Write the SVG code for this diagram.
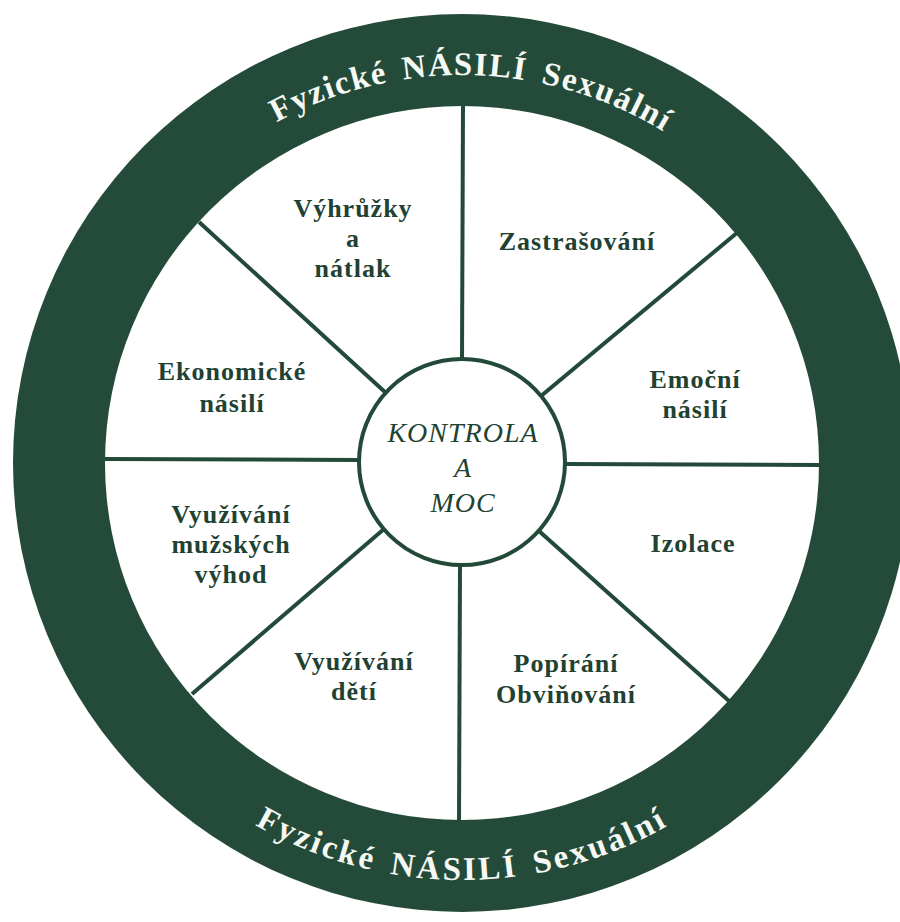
<svg xmlns="http://www.w3.org/2000/svg" width="900" height="922" viewBox="0 0 900 922">
<style>
.lbl{font-family:"Liberation Serif","Times New Roman",serif;font-weight:bold;font-size:26px;letter-spacing:1px;fill:#1f4232;text-anchor:middle}
.ctr{font-family:"Liberation Serif","Times New Roman",serif;font-style:italic;font-size:28px;letter-spacing:1px;fill:#1f4232;text-anchor:middle}
.ring{font-family:"Liberation Serif","Times New Roman",serif;font-weight:bold;font-size:33px;fill:#f6f8f4;text-anchor:middle}
.spoke{stroke:#234a38;stroke-width:4;stroke-linecap:butt}
</style>
<defs>
<path id="arcTop" d="M 74 463 A 388 388 0 0 1 850 463"/>
<path id="arcBot" d="M 45 463 A 417 417 0 0 0 879 463"/>
</defs>
<rect width="900" height="922" fill="#ffffff"/>
<g id="outer-ring">
<circle cx="462" cy="463" r="449" fill="#244b39"/>
<circle cx="462" cy="463" r="357" fill="#ffffff"/>
<text class="ring" style="letter-spacing:1.6px;word-spacing:5px"><textPath href="#arcTop" startOffset="619">Fyzické NÁSILÍ Sexuální</textPath></text>
<text class="ring" style="letter-spacing:2.8px;word-spacing:5px"><textPath href="#arcBot" startOffset="655">Fyzické NÁSILÍ Sexuální</textPath></text>
</g>
<g id="connectors">
<line class="spoke" x1="463" y1="105" x2="462" y2="360"/>
<line class="spoke" x1="459" y1="822" x2="460" y2="564"/>
<line class="spoke" x1="103" y1="459" x2="360" y2="460"/>
<line class="spoke" x1="822" y1="465" x2="564" y2="464"/>
<line class="spoke" x1="199" y1="222" x2="386" y2="393"/>
<line class="spoke" x1="738" y1="232" x2="541" y2="396"/>
<line class="spoke" x1="192" y1="694" x2="384" y2="529"/>
<line class="spoke" x1="729" y1="701" x2="539" y2="531"/>
</g>
<g id="center">
<circle cx="462" cy="462" r="103" fill="#ffffff" stroke="#234a38" stroke-width="4"/>
<text class="ctr" x="463" y="442">KONTROLA</text>
<text class="ctr" x="463" y="477">A</text>
<text class="ctr" x="463" y="512">MOC</text>
</g>
<g id="vyhruzky">
<text class="lbl" x="353" y="217">Výhrůžky</text>
<text class="lbl" x="353" y="247">a</text>
<text class="lbl" x="353" y="277">nátlak</text>
</g>
<g id="zastrasovani">
<text class="lbl" x="577" y="250">Zastrašování</text>
</g>
<g id="emocni">
<text class="lbl" x="695" y="388">Emoční</text>
<text class="lbl" x="695" y="418">násilí</text>
</g>
<g id="izolace">
<text class="lbl" x="693" y="552">Izolace</text>
</g>
<g id="popirani">
<text class="lbl" x="566" y="672">Popírání</text>
<text class="lbl" x="566" y="703">Obviňování</text>
</g>
<g id="deti">
<text class="lbl" x="354" y="670">Využívání</text>
<text class="lbl" x="354" y="700">dětí</text>
</g>
<g id="muzske">
<text class="lbl" x="231" y="523">Využívání</text>
<text class="lbl" x="231" y="553">mužských</text>
<text class="lbl" x="231" y="583">výhod</text>
</g>
<g id="ekonomicke">
<text class="lbl" x="232" y="380">Ekonomické</text>
<text class="lbl" x="232" y="412">násilí</text>
</g>
</svg>
